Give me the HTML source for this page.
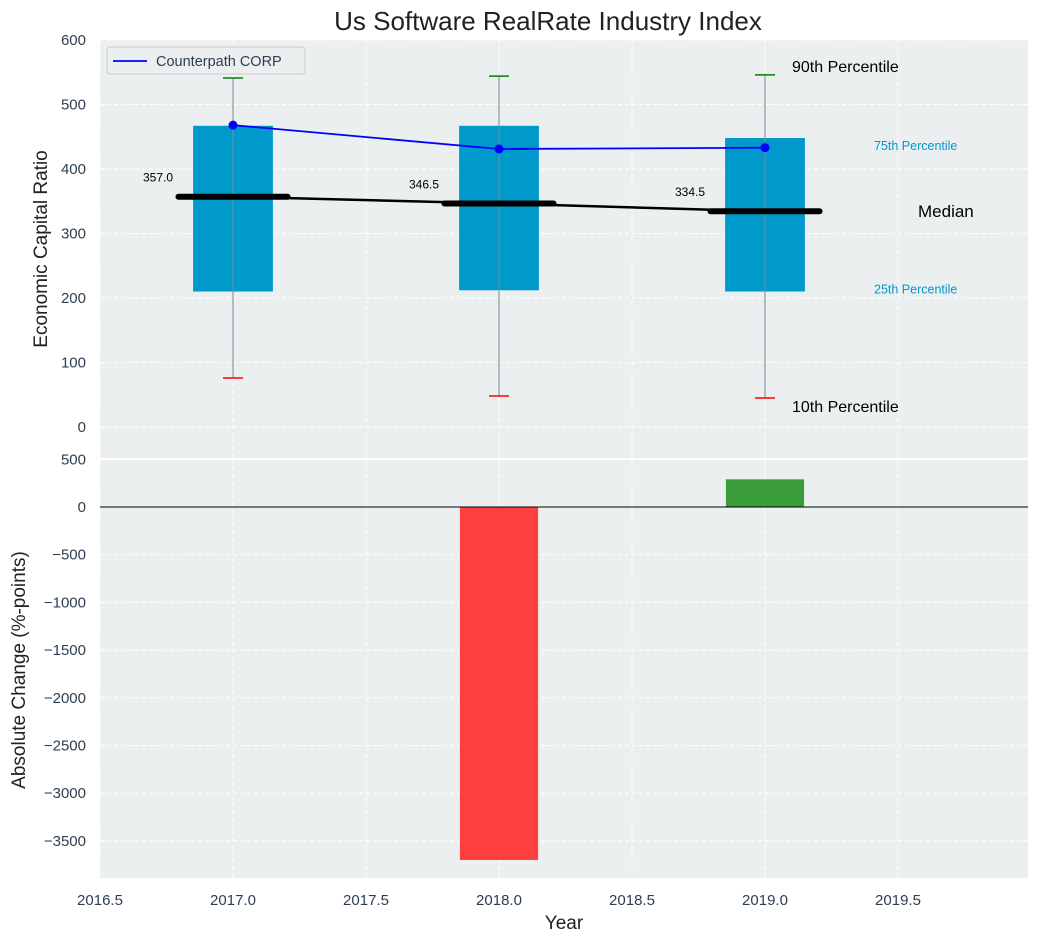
<!DOCTYPE html>
<html><head><meta charset="utf-8"><style>
body{margin:0;background:#fff;font-family:"Liberation Sans","DejaVu Sans",sans-serif}
</style></head><body>
<svg id="c" width="1039" height="942" xmlns="http://www.w3.org/2000/svg"></svg>
<script>
const years=[2017,2018,2019];
const p10=[76,48,45];
const p25=[210,212,210];
const median=[357,346.5,334.5];
const p75=[467,467,448];
const p90=[541,544,546];
const company=[468,431,433];
const changes=[0,-3700,290];
const xTicks=[2016.5,2017,2017.5,2018,2018.5,2019,2019.5];
const yTopTicks=[0,100,200,300,400,500,600];
const yBotTicks=[500,0,-500,-1000,-1500,-2000,-2500,-3000,-3500];

const svg=document.getElementById('c');
const NS='http://www.w3.org/2000/svg';
function mk(t,a,txt){const e=document.createElementNS(NS,t);for(const k in a)e.setAttribute(k,a[k]);if(txt!==undefined)e.textContent=txt;svg.appendChild(e);return e;}
const X0=100,X1=1028;
const x=v=>X0+(v-2016.5)*266;
const yT=v=>427-v*0.645;
const yB=v=>507-v*0.0954;
const TT=40,TB=458,BT=460,BB=878;

let e;
e=mk('rect',{x:X0,y:TT,width:X1-X0,height:TB-TT,fill:'#ebeff0'});

e=mk('rect',{x:X0,y:BT,width:X1-X0,height:BB-BT,fill:'#ebeff0'});


xTicks.forEach(t=>{
  e=mk('line',{x1:x(t),x2:x(t),y1:TT,y2:TB,stroke:'#fff','stroke-dasharray':'4,3'});
  
  e=mk('line',{x1:x(t),x2:x(t),y1:BT,y2:BB,stroke:'#fff','stroke-dasharray':'4,3'});
  
  e=mk('text',{x:x(t),y:905,'text-anchor':'middle','font-size':15,fill:'#2d3e50'},t.toFixed(1));
  
});
yTopTicks.forEach(t=>{
  e=mk('line',{x1:X0,x2:X1,y1:yT(t),y2:yT(t),stroke:'#fff','stroke-dasharray':'4,3'});
  
  e=mk('text',{x:86,y:yT(t)+5,'text-anchor':'end','font-size':15,fill:'#2d3e50'},t);
  
});
yBotTicks.forEach(t=>{
  e=mk('line',{x1:X0,x2:X1,y1:yB(t),y2:yB(t),stroke:'#fff','stroke-dasharray':'4,3'});
  
  e=mk('text',{x:86,y:yB(t)+5,'text-anchor':'end','font-size':15,fill:'#2d3e50'},String(t).replace('-','\u2212'));
  
});

years.forEach((yr,i)=>{
  const cx=x(yr);
  e=mk('rect',{x:cx-0.15*266,y:yT(p75[i]),width:0.3*266,height:yT(p25[i])-yT(p75[i]),fill:'#0099cc'});
  
  e=mk('line',{x1:cx,x2:cx,y1:yT(p90[i]),y2:yT(p10[i]),stroke:'#7f8a8f','stroke-width':1});
  
  e=mk('line',{x1:cx-10,x2:cx+10,y1:yT(p90[i]),y2:yT(p90[i]),stroke:'green','stroke-width':1.5});
  
  e=mk('line',{x1:cx-10,x2:cx+10,y1:yT(p10[i]),y2:yT(p10[i]),stroke:'red','stroke-width':1.5});
  
  e=mk('line',{x1:cx-0.205*266,x2:cx+0.205*266,y1:yT(median[i]),y2:yT(median[i]),stroke:'#000','stroke-width':6,'stroke-linecap':'round'});
  
  e=mk('text',{x:cx-60,y:yT(median[i])-15,'text-anchor':'end','font-size':12,fill:'#000'},median[i].toFixed(1));
  
  if(changes[i]!==0){
    const y1=yB(Math.max(0,changes[i])),y2=yB(Math.min(0,changes[i]));
    e=mk('rect',{x:cx-0.147*266,y:y1,width:0.294*266,height:y2-y1,fill:changes[i]<0?'#ff3f3f':'#3a9c3a'});
    
  }
});
e=mk('polyline',{points:years.map((yr,i)=>x(yr)+','+yT(median[i])).join(' '),fill:'none',stroke:'#000','stroke-width':2.5});

e=mk('polyline',{points:years.map((yr,i)=>x(yr)+','+yT(company[i])).join(' '),fill:'none',stroke:'blue','stroke-width':1.8});

years.forEach((yr,i)=>{
  e=mk('circle',{cx:x(yr),cy:yT(company[i]),r:4.5,fill:'blue'});
  
});
e=mk('line',{x1:X0,x2:X1,y1:yB(0),y2:yB(0),stroke:'#000','stroke-width':1});


const lastX=x(years[2]);
e=mk('text',{x:lastX+27,y:yT(p90[2])-3,'font-size':16,fill:'#000'},'90th Percentile');

e=mk('text',{x:lastX+27,y:yT(p10[2])+14,'font-size':16,fill:'#000'},'10th Percentile');

e=mk('text',{x:874,y:yT(p75[2]-14)+3,'font-size':12.5,fill:'#0099cc'},'75th Percentile');

e=mk('text',{x:874,y:yT(p25[2]+2)+3,'font-size':12.5,fill:'#0099cc'},'25th Percentile');

e=mk('text',{x:918,y:yT(median[2])+6,'font-size':17,fill:'#000'},'Median');


e=mk('rect',{x:107,y:47,width:198,height:27,rx:3,fill:'#ebeff0',stroke:'#ccc'});

e=mk('line',{x1:113,x2:147,y1:61,y2:61,stroke:'blue','stroke-width':1.8});

e=mk('text',{x:156,y:66,'font-size':14.5,fill:'#2d3e50'},'Counterpath CORP');


e=mk('text',{x:548,y:30,'text-anchor':'middle','font-size':26,fill:'#222'},'Us Software RealRate Industry Index');

e=mk('text',{x:0,y:0,transform:'translate(47,249) rotate(-90)','text-anchor':'middle','font-size':19,fill:'#222'},'Economic Capital Ratio');

e=mk('text',{x:0,y:0,transform:'translate(25,670) rotate(-90)','text-anchor':'middle','font-size':19,fill:'#222'},'Absolute Change (%-points)');

e=mk('text',{x:564,y:929,'text-anchor':'middle','font-size':19,fill:'#222'},'Year');

</script>
</body></html>
